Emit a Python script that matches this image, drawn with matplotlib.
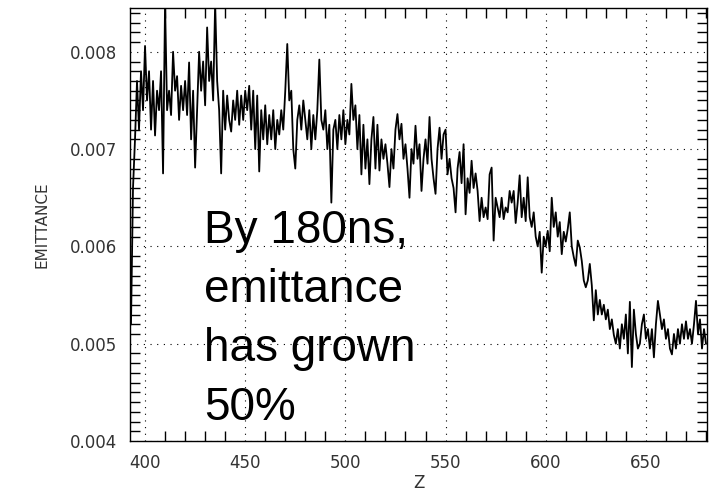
import numpy as np
import matplotlib
matplotlib.use("Agg")
import matplotlib.pyplot as plt
from matplotlib.ticker import MultipleLocator, FormatStrFormatter

# z samples (one per unit) and emittance, in units of 1e-4
z = np.arange(393, 681)
emit_e4 = [
    52, 66, 71, 77, 72, 78, 74, 80.6, 75, 78,
    72, 77, 71.4, 76, 74, 78, 67.5, 85, 74, 76,
    73.5, 80, 76, 77.5, 73, 76.5, 74, 77, 73.5, 78.9,
    71, 76, 68.1, 74, 80, 76, 79, 74.5, 82.5, 77,
    79, 75, 85, 77, 74, 67.5, 76, 72, 75.5, 73,
    71.8, 75, 73, 76, 72.5, 75.5, 73, 76, 74, 76.5,
    72, 76, 70, 75.5, 67.7, 74, 71, 74.5, 70.5, 73.5,
    71, 74, 70, 73, 71.5, 74, 72, 76, 80.8, 75,
    76, 70, 68, 73, 74.5, 72, 75, 73, 71, 74,
    70, 73.5, 71, 74, 79.2, 73, 72, 74, 70, 72.5,
    64.5, 72, 73, 70, 73.5, 71, 74, 70.5, 73, 71.5,
    76.7, 73, 74.5, 70, 73.5, 67.4, 72.5, 68, 71, 66.4,
    71, 73.3, 68, 72.5, 67.8, 71, 69, 70.5, 68.5, 66.1,
    70, 68, 72, 73.6, 71, 72.6, 69, 70.5, 68, 65,
    70, 68.5, 72.4, 69, 70.5, 65.7, 69, 71, 68.5, 73.3,
    69, 67, 65.4, 70, 72.2, 69, 71.5, 72, 67.4, 69,
    67, 66, 63.5, 68, 69.7, 66.5, 70.5, 63.3, 67, 65.5,
    68.8, 66, 67.5, 65.7, 62.6, 65, 63, 64, 62.8, 67.4,
    68.1, 60.6, 65, 64, 63, 65, 62.8, 64, 63.5, 65.7,
    64.5, 65.7, 62.4, 64.5, 67.3, 63, 65, 62.6, 67.1, 63,
    62, 63.5, 61, 60, 61.5, 57.3, 61, 60, 61.6, 59.5,
    65, 62, 63.5, 61, 62.5, 59.2, 61.5, 60.5, 61.8, 63.5,
    60, 58.9, 58, 60.6, 59.9, 58.5, 56.5, 55.8, 56.5, 58.2,
    56, 52.4, 55.5, 53, 54.5, 53, 54, 52.5, 53.5, 51.5,
    52.5, 50.9, 50, 51.5, 49.5, 52, 50.5, 53, 49, 54.3,
    47.6, 53.5, 51, 49.5, 50, 52, 53, 50.5, 51.5, 49.5,
    51.5, 48.6, 52, 54.4, 53, 51.5, 52.5, 50.5, 51.5, 49.5,
    48.9, 51, 49.5, 51.5, 50, 52, 50.5, 52.3, 50.5, 51.5,
    50, 52, 54.4, 51, 52.5, 49.5, 51.5, 50,
]
emittance = np.array(emit_e4) * 1e-4

x_major = [400, 450, 500, 550, 600, 650]
y_major = [0.004, 0.005, 0.006, 0.007, 0.008]
annotation = "By 180ns,\nemittance\nhas grown\n50%"

fig = plt.figure(figsize=(7.12, 4.93), dpi=100)
ax = fig.add_axes([130/712, 52/493, 577/712, 433/493])

ax.plot(z, emittance, color="black", lw=1.3)

ax.set_xlim(392.5, 680.5)
ax.set_ylim(0.004, 0.00845)
ax.set_xticks(x_major)
ax.set_yticks(y_major)
ax.xaxis.set_minor_locator(MultipleLocator(10))
ax.yaxis.set_minor_locator(MultipleLocator(0.0001))
ax.yaxis.set_major_formatter(FormatStrFormatter("%.3f"))

ax.tick_params(which="major", length=0, pad=9, labelsize=12, labelcolor="#333333",
               top=True, right=True)
ax.tick_params(which="minor", direction="in", length=7, width=1,
               top=True, right=True, color="black")
for s in ax.spines.values():
    s.set_linewidth(1.0)
    s.set_color("black")

ax.grid(True, which="major", color="black", linestyle=(0, (1, 5)), linewidth=0.8)

ax.set_xlabel("Z", fontsize=12, color="#333333", labelpad=2)
ax.set_ylabel("EMITTANCE", fontsize=11, color="#333333", labelpad=15)

ax.text(429.5, 0.004215, annotation, fontsize=33, family="Liberation Sans",
        color="black", va="baseline", ha="left", linespacing=1.445)

fig.savefig("out.png", dpi=100)
